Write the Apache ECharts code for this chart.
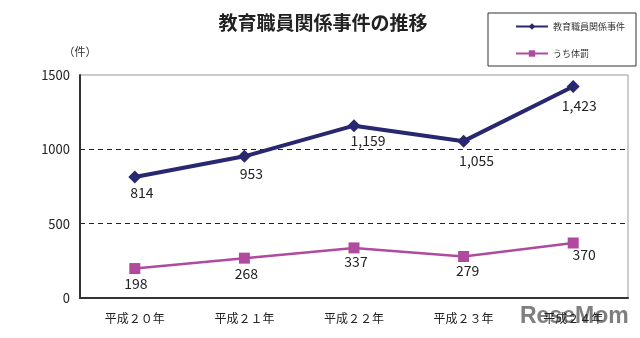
<!DOCTYPE html>
<html><head><meta charset="utf-8">
<script src="https://cdn.jsdelivr.net/npm/echarts@6/dist/echarts.min.js"></script>
<style>html,body{margin:0;padding:0;background:#fff}#c{width:640px;height:338px}</style>
</head><body><div id="c"></div>
<script>
var categories = ['平成２０年','平成２１年','平成２２年','平成２３年','平成２４年'];
var seriesNames = ['教育職員関係事件','うち体罰'];
var totalCases = [814, 953, 1159, 1055, 1423];
var corporal = [198, 268, 337, 279, 370];
var yTicks = [0, 500, 1000, 1500];
var totalLabelOffsets = [[7,0],[7,2],[14,-1],[13,4],[6,4]];
var corpLabelOffsets = [[1,1],[2,1],[2,-1],[4,0],[11,-3]];

var F = '"Noto Sans CJK JP","Noto Sans",sans-serif';
function fmt(v){return v.toString().replace(/\B(?=(\d{3})+(?!\d))/g, ',');}
function build(vals, offs){
  return vals.map(function(v,i){return {value:v,label:{offset:offs[i]}};});
}
var chart = echarts.init(document.getElementById('c'));
chart.setOption({
  animation:false,
  title:{text:'教育職員関係事件の推移',left:318,textAlign:'center',top:8,
    textStyle:{fontFamily:F,fontSize:19,fontWeight:'bold',color:'#222'}},
  legend:{orient:'vertical',left:510,top:17,itemWidth:32,itemHeight:8,itemGap:18,
    data:seriesNames,textStyle:{fontFamily:F,fontSize:9,color:'#333'}},
  graphic:[
    {type:'rect',shape:{x:488,y:13,width:148,height:53},style:{fill:'none',stroke:'#333',lineWidth:1}},
    {type:'text',left:520,top:305,style:{text:'ReseMom',font:'bold 23px "Liberation Sans",sans-serif',fill:'rgba(105,105,105,0.85)'}}
  ],
  grid:{left:80,right:12,top:75,bottom:40,show:true,borderColor:'#999',borderWidth:1},
  xAxis:{type:'category',data:categories,boundaryGap:true,
    axisLine:{lineStyle:{color:'#333',width:2}},
    axisTick:{inside:true,length:4,lineStyle:{color:'#333'}},
    axisLabel:{fontFamily:F,fontSize:12,color:'#222',margin:14}},
  yAxis:{type:'value',min:0,max:1500,interval:500,name:'（件）',
    nameLocation:'end',nameGap:18,nameTextStyle:{fontFamily:F,fontSize:11,color:'#333',align:'center'},
    axisLine:{show:true,lineStyle:{color:'#333',width:2}},
    axisTick:{show:false},
    axisLabel:{fontFamily:F,fontSize:13,color:'#222',margin:10,
      formatter:function(v){return yTicks.indexOf(v)>=0?String(v):'';}},
    splitLine:{lineStyle:{color:['rgba(0,0,0,0)','#222','#222','rgba(0,0,0,0)'],type:[5,4],width:1}}},
  series:[
    {name:seriesNames[0],type:'line',data:build(totalCases,totalLabelOffsets),
      symbol:'diamond',symbolSize:13,
      lineStyle:{color:'#28276F',width:4},itemStyle:{color:'#28276F'},
      label:{show:true,position:'bottom',distance:2,fontFamily:F,fontSize:14,color:'#222',
        formatter:function(p){return fmt(p.value);}}},
    {name:seriesNames[1],type:'line',data:build(corporal,corpLabelOffsets),
      symbol:'rect',symbolSize:11,
      lineStyle:{color:'#B04A9E',width:2.5},itemStyle:{color:'#B04A9E'},
      label:{show:true,position:'bottom',distance:2,fontFamily:F,fontSize:14,color:'#222',
        formatter:function(p){return fmt(p.value);}}}
  ]
});
</script></body></html>
